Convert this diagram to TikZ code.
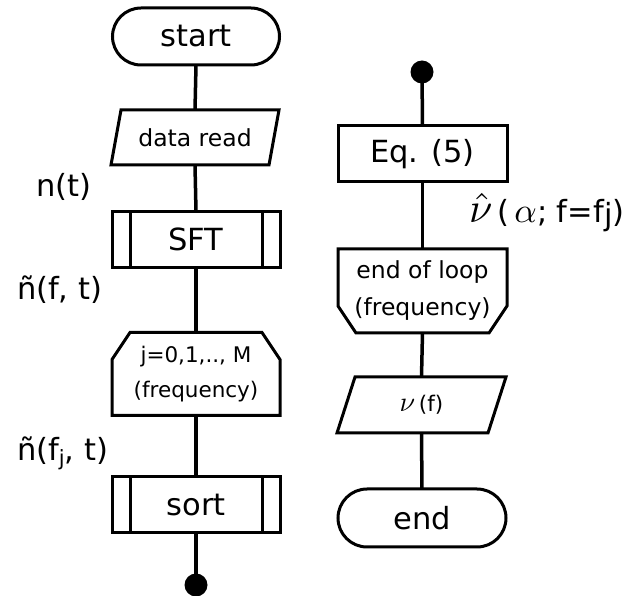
\documentclass[tikz,border=0pt]{standalone}
\usepackage{graphicx}
\usepackage{fontspec}
\setmainfont{DejaVu Sans}
\usetikzlibrary{shapes.misc,calc}
\newcommand{\bigmath}[2]{\scalebox{#1}{\fontsize{10}{12}\selectfont$#2$}}
\begin{document}
\begin{tikzpicture}[x=1pt,y=-1pt,line width=3pt,
  base/.style={inner sep=0pt,outer sep=0pt,align=center},
  big/.style={font=\fontsize{30.5}{36}\selectfont},
  mid/.style={font=\fontsize{23.5}{37}\selectfont},
  small/.style={font=\fontsize{21.5}{35}\selectfont},
  term/.style={base,big,rounded rectangle,draw,minimum width=167pt,minimum height=57pt},
  proc/.style={base,big,rectangle,draw,minimum width=168pt,minimum height=56pt},
  plain/.style={base,rectangle,minimum width=168pt},
  conn/.style={line width=3.5pt},
  dotnode/.style={circle,fill=black,draw=none,minimum size=23pt,inner sep=0pt},
  lbl/.style={base,big,anchor=west}
]
\useasboundingbox (0,0) rectangle (641,596);

% left column
\node[term] (start) at (196,36.5) {start};
\node[plain,mid,minimum width=158pt,minimum height=55pt] (data) at (195,137.5) {data read};
\draw ([xshift=5pt]data.north west) -- ([xshift=5pt]data.north east) -- ([xshift=-5pt]data.south east) -- ([xshift=-5pt]data.south west) -- cycle;
\node[proc] (sft) at (196,239.5) {SFT};
\draw ([xshift=18pt]sft.north west) -- ([xshift=18pt]sft.south west);
\draw ([xshift=-18pt]sft.north east) -- ([xshift=-18pt]sft.south east);
\node[plain,small,minimum height=83pt] (loop) at (196,374) {j=0,1,.., M\\(frequency)};
\draw ([xshift=18pt]loop.north west) -- ([xshift=-18pt]loop.north east) -- ([yshift=-27pt]loop.north east) -- (loop.south east) -- (loop.south west) -- ([yshift=-27pt]loop.north west) -- cycle;
\node[proc] (sort) at (196,505) {sort};
\draw ([xshift=18pt]sort.north west) -- ([xshift=18pt]sort.south west);
\draw ([xshift=-18pt]sort.north east) -- ([xshift=-18pt]sort.south east);
\node[dotnode] (d1) at (196,585) {};

\node[lbl] (lnt) at (36,187) {n(t)};
\node[lbl] (lnft) at (17,290) {ñ(f, t)};
\node[lbl] (lnfjt) at (17,453) {ñ(f\raisebox{-5pt}{\fontsize{21}{21}\selectfont j}, t)};

\draw[conn] (start.south) -- (data.north);
\draw[conn] (data.south) -- (sft.north);
\draw[conn] (sft.south) -- (loop.north);
\draw[conn] (loop.south) -- (sort.north);
\draw[conn] (sort.south) -- (d1.center);

% right column
\node[dotnode] (d2) at (422,72) {};
\node[proc,minimum width=169pt] (eq) at (422.5,154) {Eq. (5)};
\node[plain,mid,minimum width=169pt,minimum height=84pt] (el) at (422.5,291) {end of loop\\(frequency)};
\draw (el.north west) -- (el.north east) -- ([yshift=27pt]el.south east) -- ([xshift=-18pt]el.south east) -- ([xshift=18pt]el.south west) -- ([yshift=27pt]el.south west) -- cycle;
\node[plain,small,minimum width=151pt,minimum height=56pt] (nu) at (421.5,405) {\bigmath{2.8}{\nu}\,(f)};
\draw ([xshift=9pt]nu.north west) -- ([xshift=9pt]nu.north east) -- ([xshift=-9pt]nu.south east) -- ([xshift=-9pt]nu.south west) -- cycle;
\node[term,minimum width=168pt,minimum height=58pt] (end) at (422,518) {end};

\node[lbl] (lnu) at (469,213) {\bigmath{4.2}{\hat{\nu}}\,(\,\bigmath{3.5}{\alpha}; f=f\raisebox{-3pt}{j})};

\draw[conn] (d2.center) -- (eq.north);
\draw[conn] (eq.south) -- (el.north);
\draw[conn] (el.south) -- (nu.north);
\draw[conn] (nu.south) -- (end.north);
\end{tikzpicture}
\end{document}
